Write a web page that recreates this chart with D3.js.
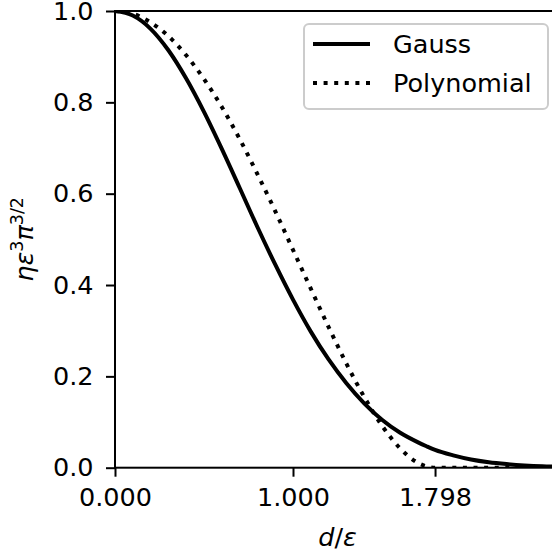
<!DOCTYPE html>
<html>
<head>
<meta charset="utf-8">
<script src="https://cdn.jsdelivr.net/npm/d3@7"></script>
<style>
  body { margin: 0; background: #fff; }
  svg text { font-family: "DejaVu Sans", sans-serif; fill: #000; }
</style>
</head>
<body>
<div id="root"></div>
<script>
// distances d/eps
var distances = [0.0, 0.1, 0.2, 0.3, 0.4, 0.5, 0.6, 0.7, 0.8, 0.9,
                 1.0, 1.1, 1.2, 1.3, 1.4, 1.5, 1.6, 1.7, 1.75, 1.798,
                 1.9, 2.0, 2.1, 2.2, 2.3, 2.4, 2.5];

var gaussValues = [1.000, 0.990, 0.961, 0.914, 0.852, 0.779, 0.698, 0.613, 0.527, 0.445,
                   0.368, 0.298, 0.237, 0.185, 0.141, 0.105, 0.077, 0.056, 0.047, 0.039,
                   0.027, 0.018, 0.012, 0.008, 0.005, 0.003, 0.002];

var polyValues = [1.000, 0.994, 0.975, 0.945, 0.903, 0.851, 0.790, 0.720, 0.643, 0.562,
                  0.477, 0.392, 0.308, 0.228, 0.155, 0.092, 0.043, 0.011, 0.003, 0.000,
                  0.000, 0.000, 0.000, 0.000, 0.000, 0.000, 0.000];

var seriesNames = ["Gauss", "Polynomial"];
var xTicks = [0, 1, 1.798];
var yTicks = [0, 0.2, 0.4, 0.6, 0.8, 1.0];

// Set the dimensions
var W = 552, H = 554;
var margin = {left: 115, top: 11},
    plotW = 445, plotH = 456.7;
var fontSize = 25.5;

var svg = d3.select("#root")
            .append("svg")
            .attr("width", W)
            .attr("height", H);

var x = d3.scaleLinear().domain([0, 2.5]).range([margin.left, margin.left + plotW]);
var y = d3.scaleLinear().domain([0, 1]).range([margin.top + plotH, margin.top]);

// clip for the lines
svg.append("defs").append("clipPath")
   .attr("id", "clip")
   .append("rect")
   .attr("x", margin.left).attr("y", margin.top)
   .attr("width", plotW).attr("height", plotH);

var line = d3.line()
             .x(function (d) { return x(d[0]); })
             .y(function (d) { return y(d[1]); })
             .curve(d3.curveMonotoneX);

var gaussData = distances.map(function (d, i) { return [d, gaussValues[i]]; });
var polyData = distances.map(function (d, i) { return [d, polyValues[i]]; });

var lines = svg.append("g").attr("clip-path", "url(#clip)");

lines.append("path")
     .datum(gaussData)
     .attr("d", line)
     .attr("fill", "none")
     .attr("stroke", "#000")
     .attr("stroke-width", 4);

lines.append("path")
     .datum(polyData)
     .attr("d", line)
     .attr("fill", "none")
     .attr("stroke", "#000")
     .attr("stroke-width", 4)
     .attr("stroke-dasharray", "4,6.6");

// X axis
var xAxis = svg.append("g")
               .attr("transform", "translate(0," + (margin.top + plotH) + ")")
               .call(d3.axisBottom(x)
                       .tickValues(xTicks)
                       .tickFormat(d3.format(".3f"))
                       .tickSize(9)
                       .tickPadding(11));
xAxis.select(".domain").remove();

// Y axis
var yAxis = svg.append("g")
               .attr("transform", "translate(" + margin.left + ",0)")
               .call(d3.axisLeft(y)
                       .tickValues(yTicks)
                       .tickFormat(d3.format(".1f"))
                       .tickSize(9)
                       .tickPadding(12.5));
yAxis.select(".domain").remove();

svg.selectAll(".tick line").attr("stroke", "#000").attr("stroke-width", 2);
svg.selectAll(".tick text")
   .attr("font-size", fontSize)
   .style("font-family", "DejaVu Sans, sans-serif");

// Spines
svg.append("rect")
   .attr("x", margin.left).attr("y", margin.top)
   .attr("width", plotW).attr("height", plotH)
   .attr("fill", "none")
   .attr("stroke", "#000")
   .attr("stroke-width", 2);

// Axis labels
var xLabel = svg.append("text")
                .attr("x", margin.left + plotW / 2)
                .attr("y", 546)
                .attr("text-anchor", "middle")
                .attr("font-size", fontSize);
xLabel.append("tspan").attr("font-style", "italic").text("d");
xLabel.append("tspan").text("/");
xLabel.append("tspan").attr("font-style", "italic").text("ε");

var yLabel = svg.append("text")
                .attr("transform", "translate(33," + (margin.top + plotH / 2) + ") rotate(-90)")
                .attr("text-anchor", "middle")
                .attr("font-size", fontSize);
yLabel.append("tspan").attr("font-style", "italic").text("ηε");
yLabel.append("tspan").attr("font-size", 17.5).attr("dy", -10).text("3");
yLabel.append("tspan").attr("font-style", "italic").attr("dy", 10).text("π");
yLabel.append("tspan").attr("font-size", 17.5).attr("dy", -10).text("3/2");

// Legend
var legend = svg.append("g");

legend.append("rect")
      .attr("x", 304).attr("y", 24)
      .attr("width", 244).attr("height", 85)
      .attr("rx", 5)
      .attr("fill", "#fff")
      .attr("fill-opacity", 0.8)
      .attr("stroke", "#cccccc")
      .attr("stroke-width", 2);

var legendItems = legend.selectAll(".item")
                        .data(seriesNames)
                        .enter().append("g")
                        .attr("transform", function (d, i) { return "translate(0," + (44 + i * 39) + ")"; });

legendItems.append("line")
           .attr("x1", 313).attr("x2", 370)
           .attr("stroke", "#000")
           .attr("stroke-width", 4)
           .attr("stroke-dasharray", function (d, i) { return i === 1 ? "4,6.6" : null; });

legendItems.append("text")
           .attr("x", 393)
           .attr("dy", "0.35em")
           .attr("font-size", fontSize)
           .text(function (d) { return d; });
</script>
</body>
</html>
